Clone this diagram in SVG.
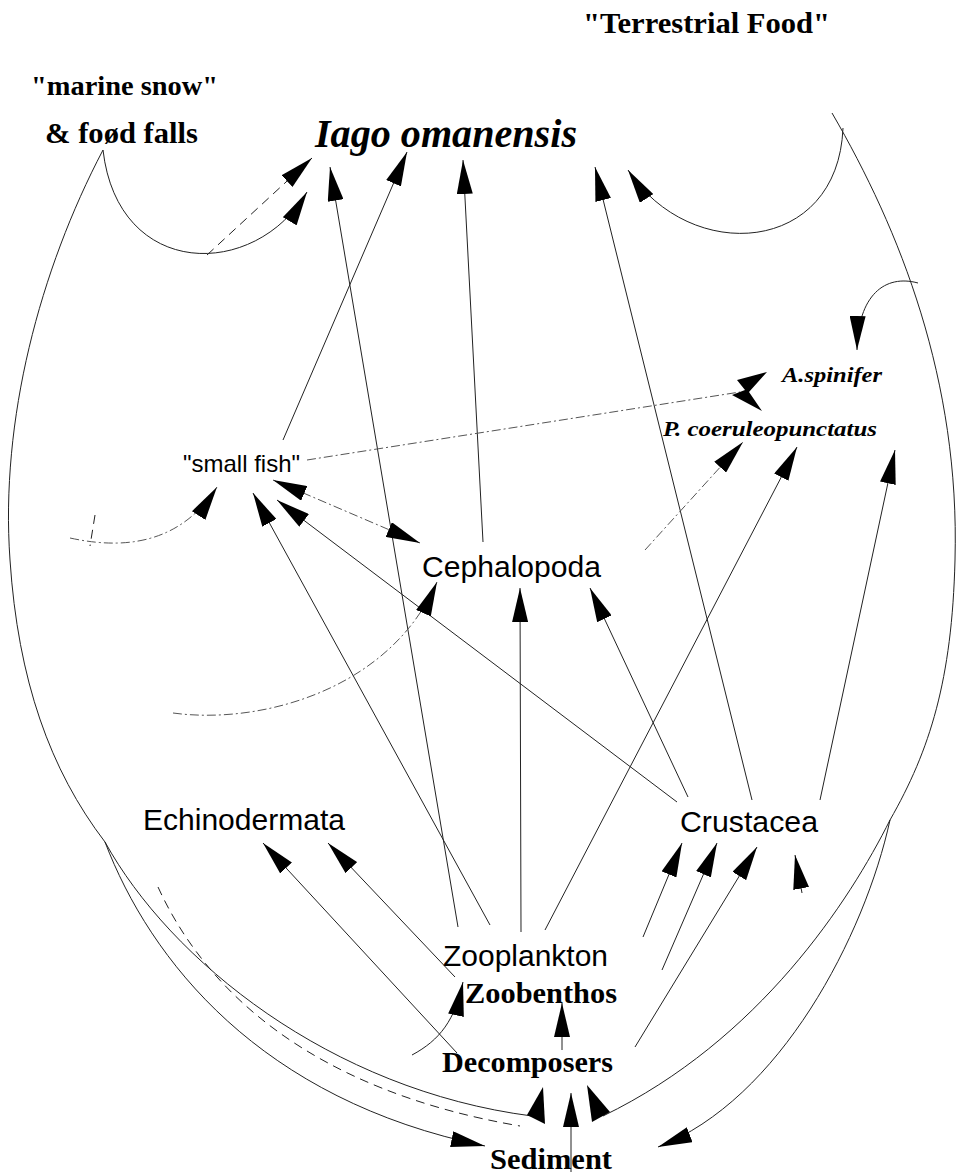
<svg xmlns="http://www.w3.org/2000/svg" width="957" height="1176" viewBox="0 0 957 1176">
<defs>
<style>
.c{fill:none;stroke:#222;stroke-width:1}
.a{marker-end:url(#ah)}
.dd{stroke:#555;stroke-dasharray:9 3 2 3}
.d{stroke-dasharray:9 6}
.h{fill:#000;stroke:none}
.sf{font-family:"Liberation Serif",serif;font-weight:bold;fill:#000}
.si{font-family:"Liberation Serif",serif;font-weight:bold;font-style:italic;fill:#000}
.ss{font-family:"Liberation Sans",Arial,sans-serif;fill:#000}
</style>
<marker id="ah" viewBox="0 0 34 16" refX="34" refY="8" markerWidth="34" markerHeight="16" markerUnits="userSpaceOnUse" orient="auto-start-reverse">
<path d="M0,0 L34,8 L0,16 z" fill="#000"/>
</marker>
</defs>
<rect width="957" height="1176" fill="#fff"/>
<g id="connectors">
<path class="c a" d="M458,927 L330,167"/>
<path class="c a" d="M283,440 L407,152"/>
<path class="c a" d="M483,542 L463,160"/>
<path class="c a" d="M752,800 L595,167"/>
<path class="c a" d="M490,925 L253,493"/>
<path class="c a" d="M677,802 L277,500"/>
<path class="c dd" d="M420,543 L273,480" marker-start="url(#ah)" marker-end="url(#ah)"/>
<path class="c dd" d="M307,460 L740,392"/>
<polygon class="h" points="767,372 737,380 745,390 732,395 762,411 749,392"/>
<path class="c a" d="M521,932 L520,588"/>
<path class="c a" d="M688,797 L590,588"/>
<path class="c dd a" d="M645,550 L743,442"/>
<path class="c a" d="M545,930 L797,447"/>
<path class="c a" d="M820,800 L895,450"/>
<path class="c a" d="M457,1053 L263,843"/>
<path class="c a" d="M455,977 L328,843"/>
<path class="c a" d="M562,1050 L562,1003"/>
<path class="c a" d="M643,937 L682,843"/>
<path class="c a" d="M662,970 L717,843"/>
<path class="c a" d="M635,1047 L757,847"/>
<path class="c a" d="M802,893 L795,855"/>
<path class="c a" d="M571,1172 L571,1093"/>
<path class="c a" d="M103,150 C118,280 255,280 307,192"/>
<path class="c d a" d="M207,255 L312,158"/>
<path class="c a" d="M843,128 C838,255 690,265 628,170"/>
<path class="c a" d="M918,283 C885,274 858,295 857,350"/>
<path class="c a" d="M103,150 C40,270 0,420 10,560 C18,680 50,770 105,842 C150,960 260,1100 485,1146"/>
<path class="c" d="M105,842 C170,960 330,1090 532,1116"/>
<polygon class="h" points="543,1087 527,1115 545,1124"/>
<path class="c d" d="M158,887 C205,990 310,1090 520,1126"/>
<path class="c a" d="M832,113 C900,230 960,380 955,560 C952,680 930,750 890,820 C865,935 780,1100 658,1147"/>
<path class="c" d="M890,820 C850,900 760,1040 603,1116"/>
<polygon class="h" points="587,1085 592,1122 610,1112"/>
<path class="c dd a" d="M173,713 C260,725 390,690 437,582"/>
<path class="c dd a" d="M70,538 Q170,560 217,487"/>
<path class="c d" d="M95,515 L90,546"/>
<path class="c a" d="M412,1055 C440,1040 455,1020 463,982"/>
</g>
<g id="terrestrial"><text class="sf" x="583" y="33" font-size="30" textLength="247" lengthAdjust="spacingAndGlyphs">"Terrestrial Food"</text></g>
<g id="marine-snow"><text class="sf" x="31" y="95" font-size="28" textLength="187" lengthAdjust="spacingAndGlyphs">"marine snow"</text><text class="sf" x="45" y="143" font-size="30" textLength="153" lengthAdjust="spacingAndGlyphs">&amp; foød falls</text></g>
<g id="iago"><text class="si" x="315" y="147" font-size="40" textLength="262" lengthAdjust="spacingAndGlyphs">Iago omanensis</text></g>
<g id="a-spinifer"><text class="si" x="782" y="382" font-size="22" textLength="100" lengthAdjust="spacingAndGlyphs">A.spinifer</text></g>
<g id="p-coeruleopunctatus"><text class="si" x="663" y="436" font-size="22" textLength="214" lengthAdjust="spacingAndGlyphs">P. coeruleopunctatus</text></g>
<g id="small-fish"><text class="ss" x="183" y="472" font-size="24" textLength="117" lengthAdjust="spacingAndGlyphs">"small fish"</text></g>
<g id="cephalopoda"><text class="ss" x="422" y="577" font-size="30" textLength="179" lengthAdjust="spacingAndGlyphs">Cephalopoda</text></g>
<g id="echinodermata"><text class="ss" x="143" y="830" font-size="30" textLength="202" lengthAdjust="spacingAndGlyphs">Echinodermata</text></g>
<g id="crustacea"><text class="ss" x="680" y="832" font-size="30" textLength="138" lengthAdjust="spacingAndGlyphs">Crustacea</text></g>
<g id="zooplankton"><text class="ss" x="443" y="966" font-size="30" textLength="165" lengthAdjust="spacingAndGlyphs">Zooplankton</text></g>
<g id="zoobenthos"><text class="sf" x="465" y="1003" font-size="30" textLength="152" lengthAdjust="spacingAndGlyphs">Zoobenthos</text></g>
<g id="decomposers"><text class="sf" x="442" y="1072" font-size="30" textLength="171" lengthAdjust="spacingAndGlyphs">Decomposers</text></g>
<g id="sediment"><text class="sf" x="490" y="1169" font-size="29" textLength="122" lengthAdjust="spacingAndGlyphs">Sediment</text></g>
</svg>
